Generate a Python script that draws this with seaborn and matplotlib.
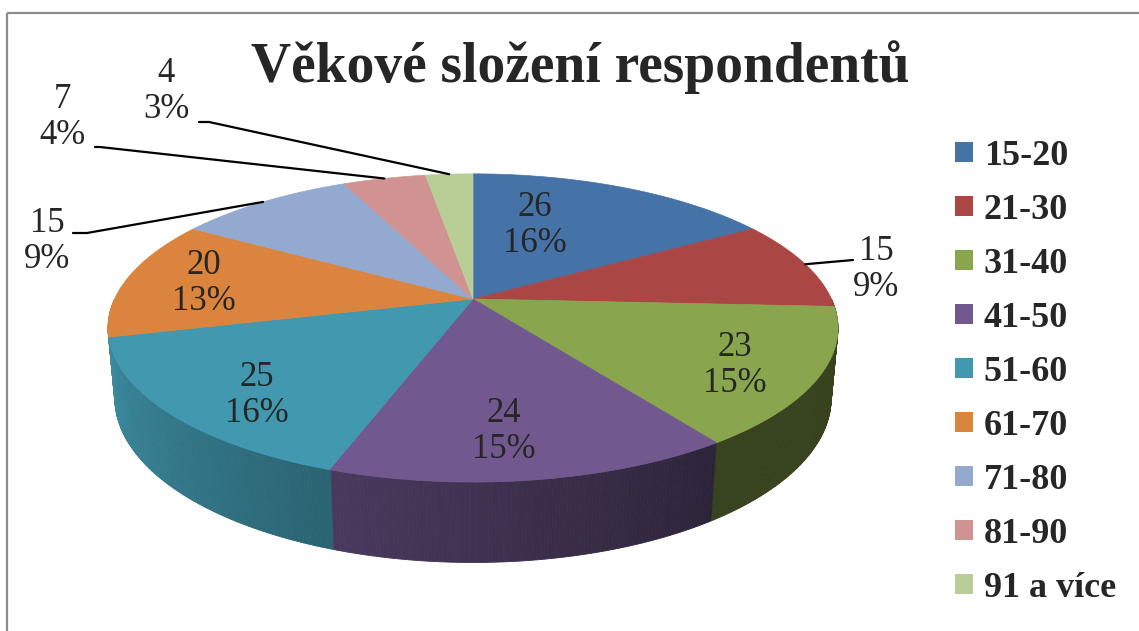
import numpy as np
import matplotlib
matplotlib.use('Agg')
import matplotlib.pyplot as plt
import seaborn as sns
from matplotlib.patches import Polygon, Patch, Rectangle

# data
categories = ['15-20', '21-30', '31-40', '41-50', '51-60', '61-70', '71-80', '81-90', '91 a více']
counts = [26, 15, 23, 24, 25, 20, 15, 7, 4]
percents = [16, 9, 15, 15, 16, 13, 9, 4, 3]
colors = ['#4572A7', '#AA4643', '#89A54E', '#71588F', '#4198AF',
          '#DB843D', '#93A9CF', '#D19392', '#B9CD96']

# label layout (pixel positions of text centres, leader-line elbows)
label_pos = [(535, 226), (876, 269), (735, 366), (504, 432), (257, 395),
             (204, 284), (47, 242), (62, 118), (166, 92)]
leader = {1: [(853, 260)],
          6: [(87, 233), (73, 233)],
          7: [(100, 147), (95, 147)],
          8: [(209, 122), (199, 122)]}

# 3d view of the pie
CX, CY = 473, 299
PHI = np.radians(24.5)
DIST, FOC, THICK = 4.84, 1735.0, 0.215


def project(theta, z=0.0, r=1.0):
    X = r * np.cos(np.radians(theta))
    Y = r * np.sin(np.radians(theta))
    up = Y * np.sin(PHI) + z * np.cos(PHI)
    d = DIST + Y * np.cos(PHI) - z * np.sin(PHI)
    return CX + FOC * X / d, CY - FOC * up / d


def shade(col, theta):
    f = np.clip(0.4 + 0.0047 * (-55 - theta), 0.4, 0.92)
    return tuple(np.array(matplotlib.colors.to_rgb(col)) * f)


sns.set_style('white')
plt.rcParams['font.family'] = ['Liberation Serif', 'DejaVu Serif']

palette = sns.color_palette(colors)
total = sum(counts)
bounds = 90 - np.concatenate([[0], np.cumsum(counts)]) / total * 360

fig = plt.figure(figsize=(11.39, 6.31), dpi=100)
ax = fig.add_axes([0, 0, 1, 1])
ax.set_xlim(0, 1139)
ax.set_ylim(631, 0)
ax.axis('off')

# chart frame
ax.add_patch(Rectangle((7, 13), 1150, 640, fill=False, edgecolor='#8c8c8c', lw=1.6))


def slice_of(theta):
    t = theta
    while t < bounds[-1]:
        t += 360
    for i in range(len(counts)):
        if bounds[i + 1] <= t <= bounds[i]:
            return i
    return 0


# side wall of the front half, painted back to front
step = 0.5
quads = []
for t in np.arange(-180, 0, step):
    i = slice_of(t + step / 2)
    pts = [project(t, 0), project(t + step, 0), project(t + step, -THICK), project(t, -THICK)]
    depth = np.sin(np.radians(t + step / 2))
    quads.append((-depth, pts, shade(palette[i], t + step / 2)))
for depth, pts, c in sorted(quads, key=lambda q: q[0]):
    ax.add_patch(Polygon(pts, closed=True, facecolor=c, edgecolor=c, lw=0.6))

# top face
for i, c in enumerate(palette):
    th = np.linspace(bounds[i], bounds[i + 1], 120)
    arc = [project(t) for t in th]
    ax.add_patch(Polygon([(CX, CY)] + arc, closed=True, facecolor=c, edgecolor=c, lw=0.5))

# data labels
for i, (n, p) in enumerate(zip(counts, percents)):
    x, y = label_pos[i]
    ax.text(x, y, f'{n}\n{p}%', ha='center', va='center', fontsize=25,
            linespacing=1.12, multialignment='center')
    if i in leader:
        mid = (bounds[i] + bounds[i + 1]) / 2
        pts = [project(mid)] + leader[i]
        ax.plot([q[0] for q in pts], [q[1] for q in pts], color='black', lw=1.6)

ax.text(580, 82, 'Věkové složení respondentů', ha='center', va='baseline',
        fontsize=40, fontweight='bold')

handles = [Patch(facecolor=c, edgecolor='none') for c in palette]
ax.legend(handles, categories, loc='upper left', bbox_to_anchor=(955 / 1139, 1 - 140 / 631),
          frameon=False, prop={'weight': 'bold', 'size': 26}, handlelength=0.5,
          handleheight=0.48, handletextpad=0.3, labelspacing=0.58, borderpad=0,
          borderaxespad=0)

plt.savefig('out.png', dpi=100)
plt.close()
